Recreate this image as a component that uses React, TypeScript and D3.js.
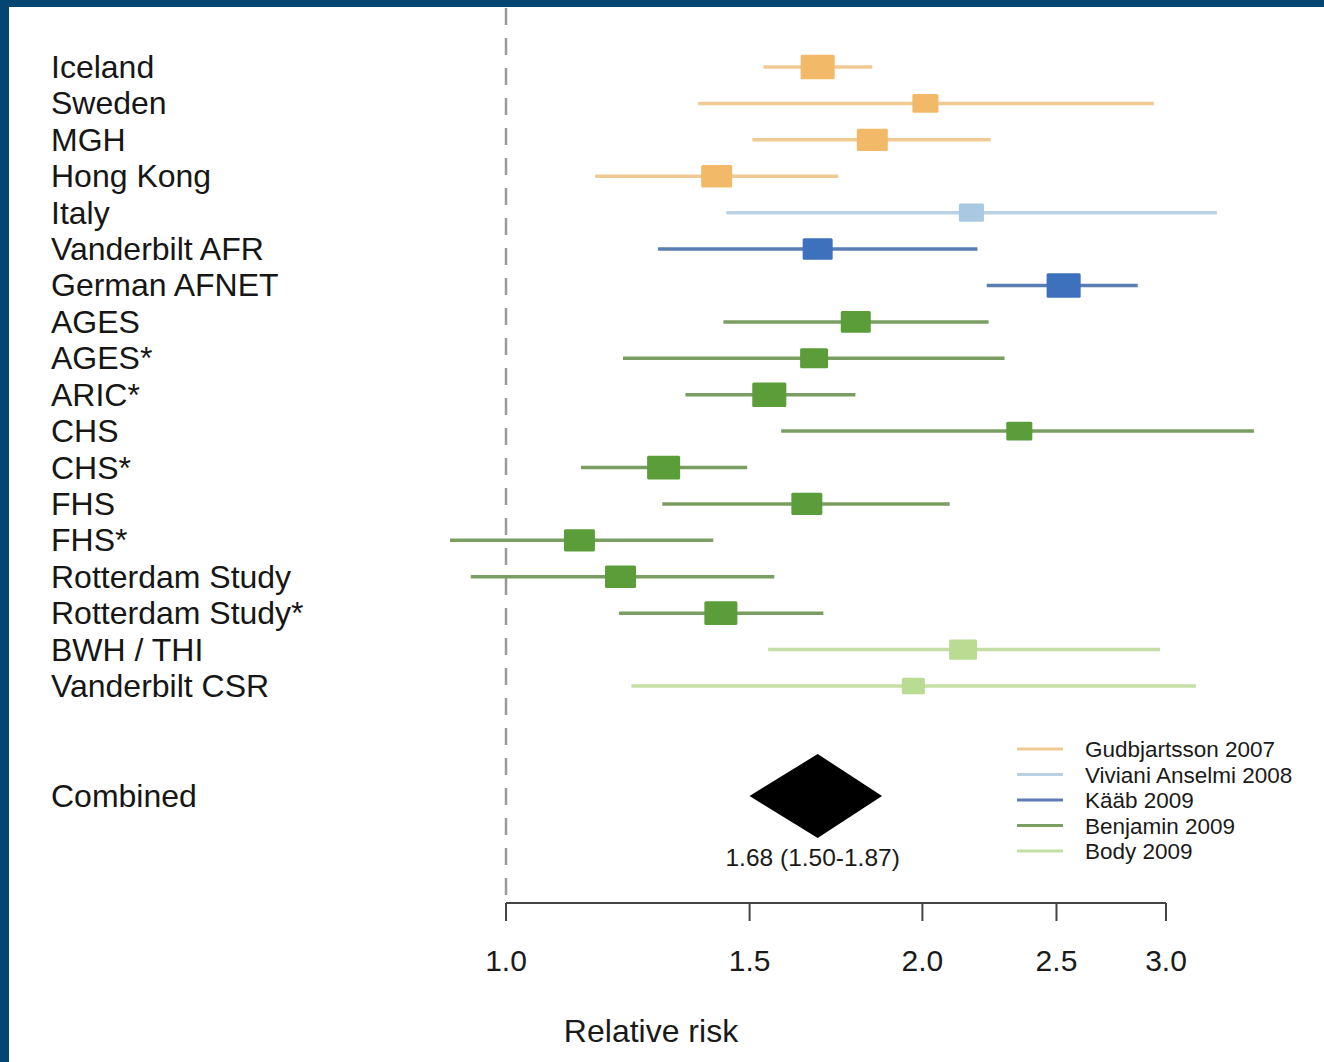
import React from "react";
import * as d3 from "d3";

// Per-cohort relative risk estimates with 95% confidence limits
const cohorts = [
  "Iceland", "Sweden", "MGH", "Hong Kong", "Italy", "Vanderbilt AFR", "German AFNET",
  "AGES", "AGES*", "ARIC*", "CHS", "CHS*", "FHS", "FHS*", "Rotterdam Study",
  "Rotterdam Study*", "BWH / THI", "Vanderbilt CSR",
];
const cohortSource = [0, 0, 0, 0, 1, 2, 2, 3, 3, 3, 3, 3, 3, 3, 3, 3, 4, 4];
const estimates = [1.68, 2.01, 1.84, 1.42, 2.17, 1.68, 2.53, 1.79, 1.67, 1.55, 2.35, 1.30, 1.65, 1.13, 1.21, 1.43, 2.14, 1.97];
const lowers = [1.535, 1.377, 1.507, 1.16, 1.443, 1.288, 2.226, 1.436, 1.215, 1.348, 1.581, 1.133, 1.297, 0.911, 0.943, 1.207, 1.547, 1.232];
const uppers = [1.84, 2.94, 2.241, 1.739, 3.265, 2.192, 2.862, 2.233, 2.293, 1.789, 3.473, 1.494, 2.093, 1.412, 1.563, 1.696, 2.97, 3.153];
const weights = [11.6, 6.8, 9.6, 9.6, 6.3, 9.0, 11.6, 9.0, 7.8, 11.6, 6.8, 10.9, 9.6, 9.6, 9.6, 10.9, 7.8, 5.3];

const sources = ["Gudbjartsson 2007", "Viviani Anselmi 2008", "Kääb 2009", "Benjamin 2009", "Body 2009"];
const boxColors = ["#f2b968", "#a9c9e3", "#3d70bd", "#5a9d39", "#b9dc92"];
const lineColors = ["#f1c992", "#bad1e4", "#5a7db2", "#7a9e62", "#c4dea6"];

const combined = { label: "Combined", estimate: 1.68, lower: 1.5, upper: 1.87 };
const tickValues = [1.0, 1.5, 2.0, 2.5, 3.0];

const W = 1324;
const H = 1062;
const FONT = "'Liberation Sans', Arial, Helvetica, sans-serif";

export default function App() {
  const x = d3.scaleLog().domain([1, 3]).range([506, 1166]);
  const y = d3.scaleLinear().domain([0, 17]).range([67, 686]);
  const boxW = d3.scaleSqrt().domain([0, 1]).range([0, 10]);
  const combinedY = 796;
  const axisY = 903;
  const labelX = 51;

  const diamond = d3.line()([
    [x(combined.lower), combinedY],
    [x(combined.estimate), combinedY - 42],
    [x(combined.upper), combinedY],
    [x(combined.estimate), combinedY + 42],
  ]) + "Z";

  const legendY = d3.scaleLinear().domain([0, 4]).range([749, 851]);

  return (
    <div style={{ position: "absolute", left: 0, top: 0, width: W, height: H }}>
      <svg width={W} height={H} style={{ display: "block" }} fontFamily={FONT}>
        <rect x={0} y={0} width={W} height={H} fill="#ffffff" />
        <rect x={0} y={0} width={W} height={7} fill="#034671" />
        <rect x={0} y={0} width={9} height={H} fill="#034671" />

        {/* reference line at RR = 1 */}
        <line x1={x(1)} x2={x(1)} y1={8} y2={axisY} stroke="#9a9a9a" strokeWidth={2.5} strokeDasharray="17 13" />

        {cohorts.map((name, i) => {
          const cy = y(i);
          const bw = boxW(weights[i]);
          const bh = bw * 0.72;
          const s = cohortSource[i];
          return (
            <g key={name}>
              <text x={labelX} y={cy + 11} fontSize={32} fill="#161616">{name}</text>
              <line x1={x(lowers[i])} x2={x(uppers[i])} y1={cy} y2={cy} stroke={lineColors[s]} strokeWidth={3.5} />
              <rect x={x(estimates[i]) - bw / 2} y={cy - bh / 2} width={bw} height={bh} rx={1.5} fill={boxColors[s]} />
            </g>
          );
        })}

        <text x={labelX} y={combinedY + 11} fontSize={32} fill="#161616">{combined.label}</text>
        <path d={diamond} fill="#000000" />
        <text x={x(combined.estimate) - 5} y={866} fontSize={24.5} textAnchor="middle" fill="#1a1a1a">
          {`${combined.estimate.toFixed(2)} (${combined.lower.toFixed(2)}-${combined.upper.toFixed(2)})`}
        </text>

        {/* legend */}
        {sources.map((src, i) => (
          <g key={src}>
            <line x1={1017} x2={1063} y1={legendY(i)} y2={legendY(i)} stroke={lineColors[i]} strokeWidth={3} />
            <text x={1085} y={legendY(i) + 8} fontSize={22.5} fill="#1a1a1a">{src}</text>
          </g>
        ))}

        {/* x axis */}
        <line x1={x(1)} x2={x(3)} y1={axisY} y2={axisY} stroke="#444" strokeWidth={2} />
        {tickValues.map((t) => (
          <g key={t}>
            <line x1={x(t)} x2={x(t)} y1={axisY} y2={axisY + 18} stroke="#444" strokeWidth={2} />
            <text x={x(t)} y={971} fontSize={30} textAnchor="middle" fill="#1a1a1a">{t.toFixed(1)}</text>
          </g>
        ))}
        <text x={651} y={1042} fontSize={32} textAnchor="middle" fill="#1a1a1a">Relative risk</text>
      </svg>
    </div>
  );
}
